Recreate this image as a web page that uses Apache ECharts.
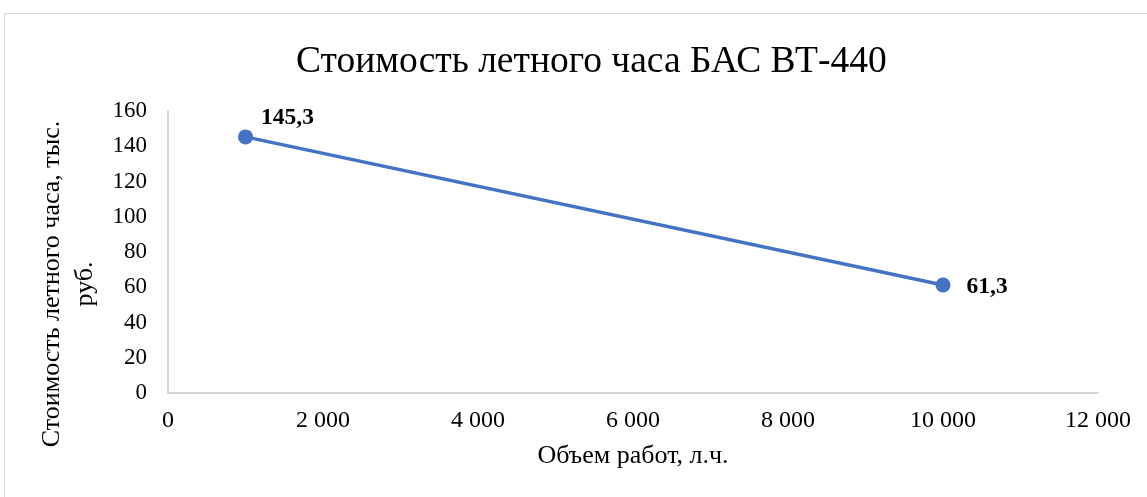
<!DOCTYPE html>
<html>
<head>
<meta charset="utf-8">
<script src="https://cdn.jsdelivr.net/npm/echarts@6/dist/echarts.min.js"></script>
<style>
  html, body { margin: 0; padding: 0; background: #fff; }
  #frame { position: absolute; left: 4px; top: 13px; width: 1150px; height: 490px; border: 1px solid #d9d9d9; box-sizing: border-box; }
  #chart { width: 1147px; height: 497px; }
</style>
</head>
<body>
<div id="frame"></div>
<div id="chart"></div>
<script>
// объем работ, л.ч. / стоимость, тыс. руб.
var volume = [1000, 10000];
var cost = [145.3, 61.3];
var xTicks = [0, 2000, 4000, 6000, 8000, 10000, 12000];
var yTicks = [0, 20, 40, 60, 80, 100, 120, 140, 160];

var font = '"Liberation Serif", "Times New Roman", serif';
// смещение подписей значений
var labelOffsets = [[3, -19], [11, 2]];
var points = volume.map(function (v, i) {
  return { value: [v, cost[i]], label: { offset: labelOffsets[i] } };
});

var chart = echarts.init(document.getElementById('chart'));
chart.setOption({
  animation: false,
  title: {
    text: 'Стоимость летного часа БАС ВТ-440',
    left: 291,
    top: 38,
    textStyle: { fontFamily: font, fontSize: 37.5, fontWeight: 'normal', color: '#000' }
  },
  grid: { left: 168, right: 49, top: 111, bottom: 104 },
  xAxis: {
    type: 'value',
    min: xTicks[0],
    max: xTicks[xTicks.length - 1],
    interval: 2000,
    name: 'Объем работ, л.ч.',
    nameLocation: 'middle',
    nameGap: 50,
    nameTextStyle: { fontFamily: font, fontSize: 26, color: '#000' },
    axisLine: { lineStyle: { color: '#c8c8c8', width: 1.5 } },
    axisTick: { show: false },
    splitLine: { show: false },
    axisLabel: {
      fontFamily: font, fontSize: 24, color: '#000', margin: 16,
      formatter: function (v) { return String(v).replace(/\B(?=(\d{3})+(?!\d))/g, ' '); }
    }
  },
  yAxis: {
    type: 'value',
    min: yTicks[0],
    max: yTicks[yTicks.length - 1],
    interval: 20,
    name: 'Стоимость летного часа, тыс.\nруб.',
    nameLocation: 'middle',
    nameGap: 56,
    nameTextStyle: { fontFamily: font, fontSize: 26, color: '#000', lineHeight: 33, padding: [0, 64, 0, 0] },
    axisLine: { show: true, lineStyle: { color: '#c8c8c8', width: 1.5 } },
    axisTick: { show: false },
    splitLine: { show: false },
    axisLabel: { fontFamily: font, fontSize: 23, color: '#000', margin: 21 }
  },
  series: [{
    type: 'line',
    data: points,
    symbol: 'circle',
    symbolSize: 15,
    lineStyle: { color: '#4472C4', width: 3.5 },
    itemStyle: { color: '#4472C4' },
    label: {
      show: true,
      position: 'right',
      distance: 5,
      fontFamily: font, fontSize: 23.5, fontWeight: 'bold', color: '#000',
      formatter: function (p) { return String(p.value[1]).replace('.', ','); }
    }
  }]
});
</script>
</body>
</html>
